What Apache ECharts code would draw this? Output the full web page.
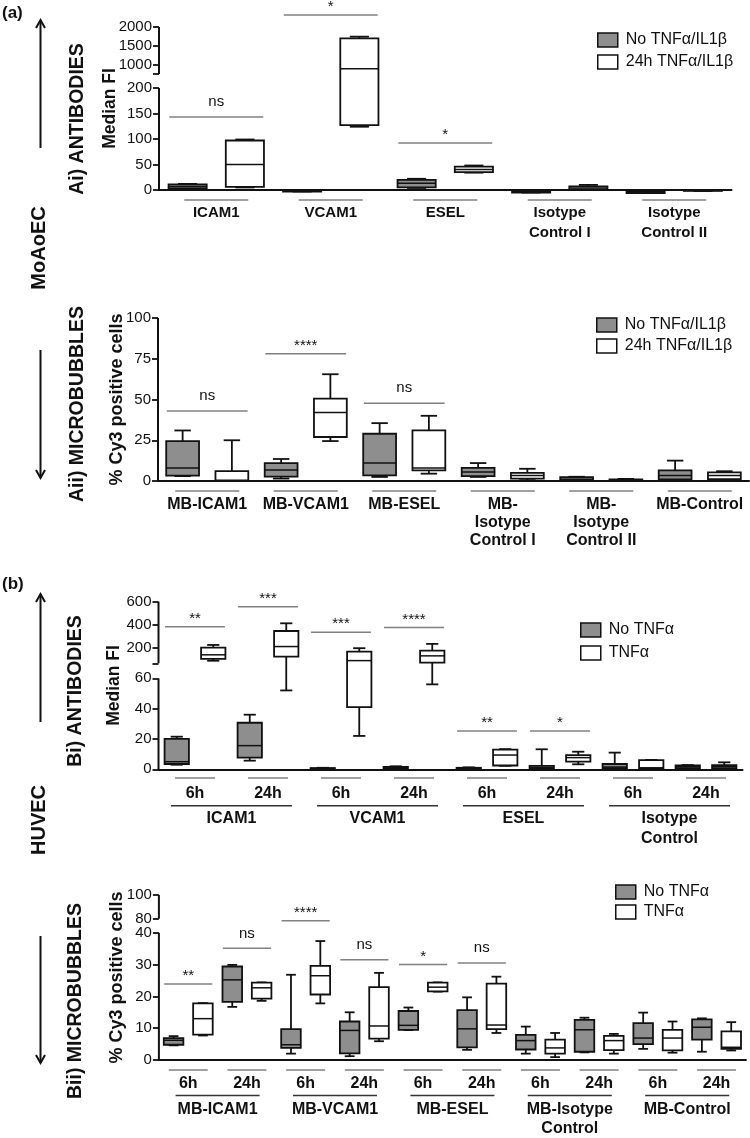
<!DOCTYPE html>
<html><head><meta charset="utf-8">
<script src="https://cdn.jsdelivr.net/npm/echarts@6/dist/echarts.min.js"></script>
<style>html,body{margin:0;padding:0;background:#fff}#c{width:750px;height:1138px}</style>
</head><body><div id="c"></div>
<script>
// ---------------- DATA ----------------
// box values: [min, q1, median, q3, max]
const aiCategories = ['ICAM1', 'VCAM1', 'ESEL', 'Isotype\nControl I', 'Isotype\nControl II'];
const aiNoTnf = [[2,3,7,11,12], [-3,-3,-2,-1.5,-1], [4,5,13,20,22], [-5,-5,-3,-1,-1], [-6,-6,-5,-3,-3]];
const aiTnf = [[5,6,50,97,99], [124,127,895,1700,1745], [34,35,40,46,48], [0,1,4,7,10], [-2,-1.5,-1,-0.5,0]];
const aiTicksLower = [0, 50, 100, 150, 200];
const aiTicksUpper = [1000, 1500, 2000];
const aiSigCats = [0, 1, 2];
const aiSigY = [143, 2316, 92];
const aiSigText = ['ns', '*', '*'];

const aiiCategories = ['MB-ICAM1', 'MB-VCAM1', 'MB-ESEL', 'MB-\nIsotype\nControl I', 'MB-\nIsotype\nControl II', 'MB-Control'];
const aiiNoTnf = [[3,3.3,8,24.5,31], [1.5,2.7,6.7,11,13.5], [2.5,3.5,11,29,35.5], [2.5,3,5.5,8,11], [0,0.3,1,2.4,2.6], [0.5,1,3.3,6.5,12.5]];
const aiiTnf = [[0,0,0.5,6,25], [24.5,27,42,50.5,65.5], [4.5,6.5,8,31,40], [0.5,1.5,3.3,5,7.5], [0,0.2,0.5,1,1.3], [0.8,1.2,3.3,5.3,6]];
const aiiTicks = [0, 25, 50, 75, 100];
const aiiSigCats = [0, 1, 2];
const aiiSigY = [43, 78, 47.7];
const aiiSigText = ['ns', '****', 'ns'];

const biTimes = ['6h', '24h', '6h', '24h', '6h', '24h', '6h', '24h'];
const biGroups = ['ICAM1', 'VCAM1', 'ESEL', 'Isotype\nControl'];
const biNoTnf = [[3,3.5,5,20,21.5], [5.7,7.7,15.6,30.7,36], [0.2,0.4,0.6,0.8,1], [0.5,0.8,1.2,1.6,2], [0,0.2,0.5,1,1.3], [0.3,0.4,1,2.2,13.2], [0.5,0.7,1.5,3.5,11], [0.5,0.7,1.8,2.6,2.8]];
const biTnf = [[92,108,143,205,228], [52,128,214,348,414], [22,41,93,171,200], [56,76,134,179,237], [2.3,2.5,9.4,13,13.3], [3.3,5,7.7,9.4,11.6], [0.5,0.7,0.9,6.1,6.2], [0.5,0.7,1.7,2.8,4.6]];
const biTicksLower = [0, 20, 40, 60];
const biTicksUpper = [200, 400, 600];
const biSigCats = [0, 1, 2, 3, 4, 5];
const biSigY = [385, 557, 337, 377, 25.2, 25.2];
const biSigText = ['**', '***', '***', '****', '**', '*'];

const biiTimes = ['6h', '24h', '6h', '24h', '6h', '24h', '6h', '24h', '6h', '24h'];
const biiGroups = ['MB-ICAM1', 'MB-VCAM1', 'MB-ESEL', 'MB-Isotype\nControl', 'MB-Control'];
const biiNoTnf = [[4.6,4.8,6.2,6.9,7.5], [16.7,18.3,25.2,29.4,29.9], [2,3.8,4.8,9.7,26.8], [1.2,2.1,9.3,12.1,15], [9.4,9.5,10.9,15.4,16.5], [3.2,4,9.8,15.7,19.7], [2,3.3,6.1,7.9,10.5], [2.4,2.6,9.5,12.6,13.3], [3.5,5,6.9,11.6,14.9], [2.6,6.4,10.3,12.8,13.1]];
const biiTnf = [[7.7,8,13,17.8,17.9], [18.6,19.3,22.7,24.3,24.4], [17.8,20.6,26.5,29.6,37.4], [5.9,6.7,10.7,22.9,27.4], [21.5,21.6,22.9,24.3,24.4], [8.5,9.7,11,24,26.2], [0.9,2,3.8,6.4,8.5], [2,3.1,6.1,7.6,8.2], [2.3,3,6.9,9.5,12.1], [3,3.5,4,9,11.9]];
const biiTicksLower = [0, 10, 20, 30, 40];
const biiTicksUpper = [80, 100];
const biiSigCats = [0, 1, 2, 3, 4, 5];
const biiSigY = [23.9, 35.1, 74, 31.5, 30, 30.5];
const biiSigText = ['**', 'ns', '****', 'ns', '*', 'ns'];

// ---------------- STYLE / LAYOUT ----------------
const FONT = '"Liberation Sans", Arial, Helvetica, sans-serif';
const GRAY = '#8e8e8e';
const INK = '#111111';
const RULE = '#808080';
const NAME_A = ['No TNF\u03b1/IL1\u03b2', '24h TNF\u03b1/IL1\u03b2'];
const NAME_B = ['No TNF\u03b1', 'TNF\u03b1'];

// broken-axis segments: real [lo,hi] -> axis fraction [a,b]
const aiSegs = [{lo:0, hi:200, a:0, b:0.626}, {lo:760, hi:2000, a:0.712, b:1}];
const aiiSegs = [{lo:0, hi:100, a:0, b:1}];
const biSegs = [{lo:0, hi:60, a:0, b:0.543}, {lo:70, hi:600, a:0.6325, b:1}];
const biiSegs = [{lo:0, hi:40, a:0, b:0.771}, {lo:80, hi:100, a:0.8566, b:1}];

function makeMap(segs) {
  return function (v) {
    for (let i = 0; i < segs.length; i++) {
      const s = segs[i];
      if (v <= s.hi || i === segs.length - 1) {
        if (v >= s.lo || i === 0) return s.a + (v - s.lo) / (s.hi - s.lo) * (s.b - s.a);
        const p = segs[i - 1];
        return p.b + (v - p.hi) / (s.lo - p.hi) * (s.a - p.b);
      }
    }
  };
}
const aiMap = makeMap(aiSegs), aiiMap = makeMap(aiiSegs), biMap = makeMap(biSegs), biiMap = makeMap(biiSegs);

function yAxisFor(gridIndex, map, labelTicks, extraTicks, name, nameGap, nameSize) {
  const labVals = labelTicks.map(map);
  const tickVals = labVals.concat(extraTicks.map(map));
  return {
    type: 'value', gridIndex: gridIndex, min: 0, max: 1,
    name: name, nameLocation: 'middle', nameGap: nameGap, nameRotate: 90, nameMoveOverlap: false,
    nameTextStyle: {fontFamily: FONT, fontWeight: 'bold', fontSize: nameSize, color: INK},
    axisLine: {show: false}, splitLine: {show: false},
    axisTick: {show: true, length: 6, customValues: tickVals, lineStyle: {color: INK, width: 1.8}},
    axisLabel: {show: true, customValues: labVals, margin: 7, fontFamily: FONT, fontSize: 15, color: INK,
      formatter: function (v) {
        let bi = 0, bd = 1e9;
        labVals.forEach(function (lv, i) { const d = Math.abs(lv - v); if (d < bd) { bd = d; bi = i; } });
        return String(labelTicks[bi]);
      }}
  };
}

function xAxisFor(gridIndex, cats, fontSize, lineHeight, margin, showLine) {
  return {
    type: 'category', gridIndex: gridIndex, data: cats, boundaryGap: true, position: 'bottom',
    axisLine: {show: showLine, onZero: false, lineStyle: {color: INK, width: 2}},
    axisTick: {show: false}, splitLine: {show: false},
    axisLabel: {interval: 0, margin: margin, fontFamily: FONT, fontWeight: 'bold', fontSize: fontSize, lineHeight: lineHeight, color: INK}
  };
}

function boxSeries(name, xIdx, yIdx, data, side, fill, map) {
  return {
    type: 'custom', name: name, xAxisIndex: xIdx, yAxisIndex: yIdx, clip: false, silent: true, z: 3,
    itemStyle: {color: fill, borderColor: INK},
    data: data.map(function (d, i) { return [i].concat(d); }),
    renderItem: function (params, api) {
      const i = api.value(0);
      const cw = api.size([1, 0])[0];
      const cx = api.coord([i, 0])[0] + side * cw * 0.25;
      const bw = cw / 3;
      const Y = function (v) { return api.coord([i, map(v)])[1]; };
      const mn = Y(api.value(1)), q1 = Y(api.value(2)), md = Y(api.value(3)), q3 = Y(api.value(4)), mx = Y(api.value(5));
      const st = {stroke: INK, lineWidth: 1.8, fill: null};
      return {type: 'group', children: [
        {type: 'line', shape: {x1: cx, y1: mx, x2: cx, y2: q3}, style: st},
        {type: 'line', shape: {x1: cx, y1: q1, x2: cx, y2: mn}, style: st},
        {type: 'line', shape: {x1: cx - bw / 4, y1: mx, x2: cx + bw / 4, y2: mx}, style: st},
        {type: 'line', shape: {x1: cx - bw / 4, y1: mn, x2: cx + bw / 4, y2: mn}, style: st},
        {type: 'rect', shape: {x: cx - bw / 2, y: q3, width: bw, height: Math.max(q1 - q3, 0.5)}, style: {fill: fill, stroke: INK, lineWidth: 1.8}},
        {type: 'line', shape: {x1: cx - bw / 2, y1: md, x2: cx + bw / 2, y2: md}, style: {stroke: INK, lineWidth: 1.5}}
      ]};
    }
  };
}

function ruleSeries(xIdx, yIdx, cats, pairs, offset, len, color) {
  const n = pairs ? cats.length / 2 : cats.length;
  const d = [];
  for (let i = 0; i < n; i++) d.push([i, 0]);
  return {
    type: 'custom', xAxisIndex: xIdx, yAxisIndex: yIdx, clip: false, silent: true, data: d,
    renderItem: function (params, api) {
      const i = api.value(0);
      const x = pairs ? (api.coord([2 * i, 0])[0] + api.coord([2 * i + 1, 0])[0]) / 2 : api.coord([i, 0])[0];
      const y = api.coord([0, 0])[1] + offset;
      return {type: 'line', shape: {x1: x - len / 2, y1: y, x2: x + len / 2, y2: y}, style: {stroke: color, lineWidth: 1.5}};
    }
  };
}

function axisSegSeries(xIdx, yIdx, segs, map) {
  return {
    type: 'custom', xAxisIndex: xIdx, yAxisIndex: yIdx, clip: false, silent: true, z: 4,
    data: segs.map(function (s) { return [0, s.lo, s.hi]; }),
    renderItem: function (params, api) {
      const x = params.coordSys.x;
      const y1 = api.coord([0, map(api.value(1))])[1];
      const y2 = api.coord([0, map(api.value(2))])[1];
      return {type: 'line', shape: {x1: x, y1: y1, x2: x, y2: y2}, style: {stroke: INK, lineWidth: 2}};
    }
  };
}

function sigSeries(xIdx, yIdx, cats, ys, texts, map) {
  return {
    type: 'custom', xAxisIndex: xIdx, yAxisIndex: yIdx, clip: false, silent: true,
    data: cats.map(function (c, i) { return [c, ys[i]]; }),
    renderItem: function (params, api) {
      const c = api.value(0);
      const cw = api.size([1, 0])[0];
      const p = api.coord([c, map(api.value(1))]);
      const t = texts[params.dataIndex];
      const star = t.indexOf('*') >= 0;
      return {type: 'group', children: [
        {type: 'line', shape: {x1: p[0] - 0.41 * cw, y1: p[1], x2: p[0] + 0.41 * cw, y2: p[1]}, style: {stroke: RULE, lineWidth: 1.5}},
        {type: 'text', x: p[0], y: p[1] - (star ? 8 : 15), style: {text: t, fill: INK, font: '15px ' + FONT, align: 'center', verticalAlign: 'middle'}}
      ]};
    }
  };
}

function legendFor(names, left, top, gap) {
  return {
    orient: 'vertical', left: left, top: top, itemWidth: 20, itemHeight: 14, itemGap: gap, padding: 0,
    icon: 'rect', selectedMode: false,
    textStyle: {fontFamily: FONT, fontSize: 16, color: INK, lineHeight: 16, padding: [0, 0, 0, 3]},
    data: [
      {name: names[0], itemStyle: {color: GRAY, borderColor: INK, borderWidth: 1.5}},
      {name: names[1], itemStyle: {color: '#ffffff', borderColor: INK, borderWidth: 1.5}}
    ]
  };
}

function arrow(x, yTail, yTip) {
  const dir = yTip < yTail ? -1 : 1;
  return [
    {type: 'line', shape: {x1: x, y1: yTail, x2: x, y2: yTip}, style: {stroke: INK, lineWidth: 2}},
    {type: 'polyline', shape: {points: [[x - 4.5, yTip - dir * 8], [x, yTip], [x + 4.5, yTip - dir * 8]]}, style: {stroke: INK, lineWidth: 2, fill: null}}
  ];
}
function vtext(t, x, y, size) {
  return {type: 'text', x: x, y: y, rotation: Math.PI / 2,
    style: {text: t, font: 'bold ' + size + 'px ' + FONT, fill: INK, align: 'center', verticalAlign: 'middle'}};
}
function htext(t, x, y, size) {
  return {type: 'text', x: x, y: y, style: {text: t, font: 'bold ' + size + 'px ' + FONT, fill: INK, align: 'left', verticalAlign: 'middle'}};
}

const chart = echarts.init(document.getElementById('c'), null, {renderer: 'canvas'});
chart.setOption({
  animation: false,
  backgroundColor: '#ffffff',
  grid: [
    {left: 159, top: 27, width: 572.5, height: 163},
    {left: 158, top: 318, width: 591, height: 163},
    {left: 158.5, top: 601.7, width: 584, height: 167.6},
    {left: 158.9, top: 895, width: 587, height: 167.3}
  ],
  xAxis: [
    xAxisFor(0, aiCategories, 15, 20, 13, true),
    xAxisFor(1, aiiCategories, 16, 18, 15, true),
    xAxisFor(2, biTimes, 16, 18, 15, true),
    xAxisFor(3, biiTimes, 16, 18, 15, true),
    xAxisFor(2, biGroups, 16, 20, 39, false),
    xAxisFor(3, biiGroups, 16, 19, 40, false)
  ],
  yAxis: [
    yAxisFor(0, aiMap, aiTicksLower.concat(aiTicksUpper), [760], 'Median FI', 40, 17.5),
    yAxisFor(1, aiiMap, aiiTicks, [], '% Cy3 positive cells', 32, 18),
    yAxisFor(2, biMap, biTicksLower.concat(biTicksUpper), [70], 'Median FI', 35, 17.5),
    yAxisFor(3, biiMap, biiTicksLower.concat(biiTicksUpper), [], '% Cy3 positive cells', 33, 18)
  ],
  legend: [
    legendFor(NAME_A, 597, 32, 6),
    legendFor(NAME_A, 596, 317, 5),
    legendFor(NAME_B, 580, 622, 7),
    legendFor(NAME_B, 615, 884, 4)
  ],
  series: [
    axisSegSeries(0, 0, aiSegs, aiMap),
    axisSegSeries(1, 1, aiiSegs, aiiMap),
    axisSegSeries(2, 2, biSegs, biMap),
    axisSegSeries(3, 3, biiSegs, biiMap),
    ruleSeries(0, 0, aiCategories, false, 10, 64, RULE),
    ruleSeries(1, 1, aiiCategories, false, 10, 64, RULE),
    ruleSeries(2, 2, biTimes, false, 8.7, 40, RULE),
    ruleSeries(2, 2, biTimes, true, 36.4, 121, '#333333'),
    ruleSeries(3, 3, biiTimes, false, 10, 39, RULE),
    ruleSeries(3, 3, biiTimes, true, 35.4, 84, '#333333'),
    boxSeries(NAME_A[0], 0, 0, aiNoTnf, -1, GRAY, aiMap),
    boxSeries(NAME_A[1], 0, 0, aiTnf, 1, '#ffffff', aiMap),
    boxSeries(NAME_A[0], 1, 1, aiiNoTnf, -1, GRAY, aiiMap),
    boxSeries(NAME_A[1], 1, 1, aiiTnf, 1, '#ffffff', aiiMap),
    boxSeries(NAME_B[0], 2, 2, biNoTnf, -1, GRAY, biMap),
    boxSeries(NAME_B[1], 2, 2, biTnf, 1, '#ffffff', biMap),
    boxSeries(NAME_B[0], 3, 3, biiNoTnf, -1, GRAY, biiMap),
    boxSeries(NAME_B[1], 3, 3, biiTnf, 1, '#ffffff', biiMap),
    sigSeries(0, 0, aiSigCats, aiSigY, aiSigText, aiMap),
    sigSeries(1, 1, aiiSigCats, aiiSigY, aiiSigText, aiiMap),
    sigSeries(2, 2, biSigCats, biSigY, biSigText, biMap),
    sigSeries(3, 3, biiSigCats, biiSigY, biiSigText, biiMap)
  ],
  graphic: {elements: [].concat(
    [htext('(a)', 2, 13, 17), htext('(b)', 2, 584, 17)],
    arrow(40.5, 148, 20), arrow(40.5, 350, 478), arrow(40.5, 722, 594), arrow(40.5, 936, 1063),
    [vtext('Ai) ANTIBODIES', 78, 119, 19.5), vtext('MoAoEC', 39.5, 248, 20), vtext('Aii) MICROBUBBLES', 78, 404, 19.5),
     vtext('Bi) ANTIBODIES', 76, 691, 19.5), vtext('HUVEC', 39.5, 820, 20), vtext('Bii) MICROBUBBLES', 76, 1001, 19.5)]
  )}
});
</script></body></html>
